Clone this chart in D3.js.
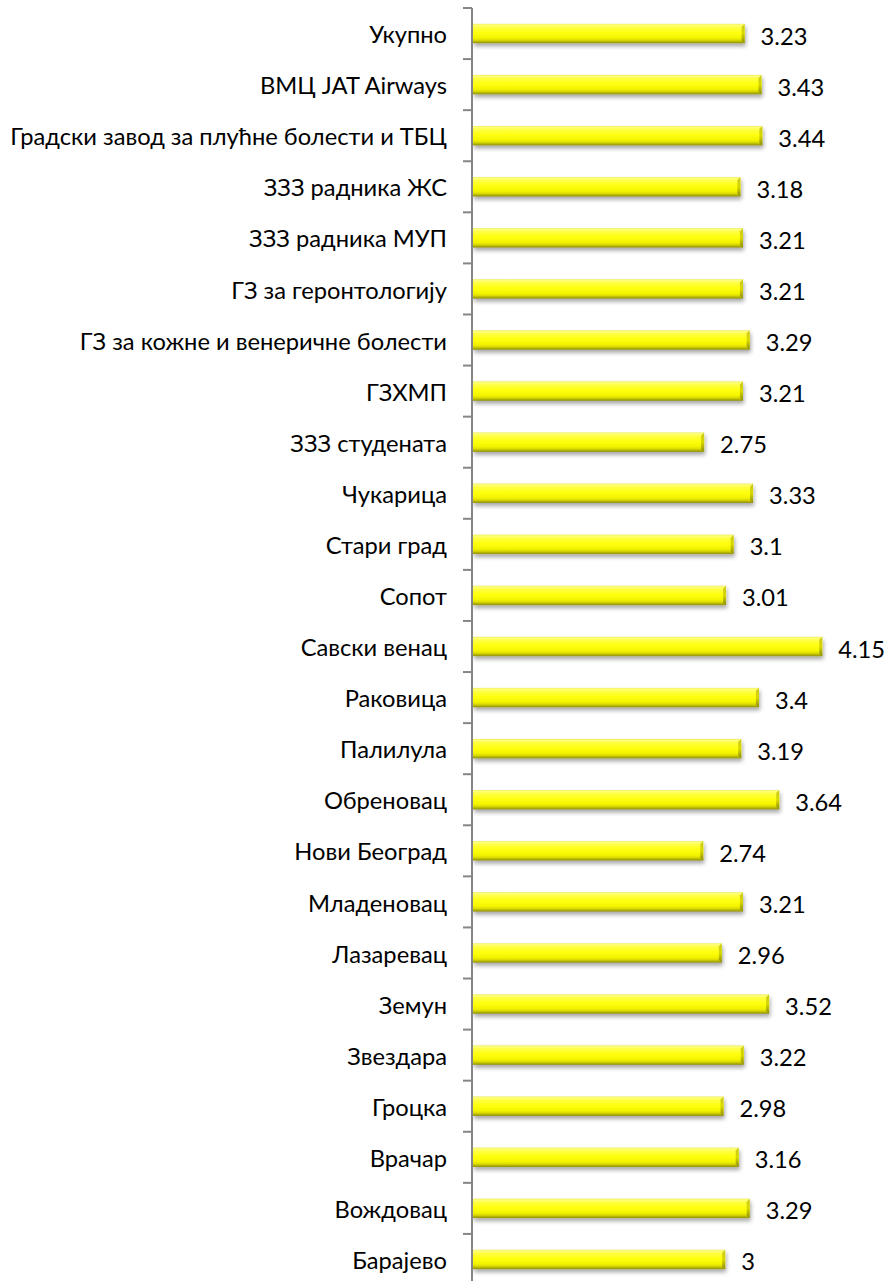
<!DOCTYPE html>
<html>
<head>
<meta charset="utf-8">
<script src="https://cdn.jsdelivr.net/npm/d3@7"></script>
<style>
  html, body { margin: 0; padding: 0; background: #ffffff; }
  svg { display: block; }
  text { font-family: Lato, "Open Sans", sans-serif; fill: #000; }
</style>
</head>
<body>
<svg id="chart" width="885" height="1281"></svg>
<script>
// Categories listed top to bottom
const categories = [
  "Укупно",
  "ВМЦ JAT Airways",
  "Градски завод за плућне болести и ТБЦ",
  "ЗЗЗ радника ЖС",
  "ЗЗЗ радника МУП",
  "ГЗ за геронтологију ",
  "ГЗ за кожне и венеричне болести",
  "ГЗХМП",
  "ЗЗЗ студената",
  "Чукарица",
  "Стари град",
  "Сопот",
  "Савски венац",
  "Раковица",
  "Палилула",
  "Обреновац",
  "Нови Београд",
  "Младеновац",
  "Лазаревац",
  "Земун",
  "Звездара",
  "Гроцка",
  "Врачар",
  "Вождовац",
  "Барајево"
];
const values = [
  3.23, 3.43, 3.44, 3.18, 3.21, 3.21, 3.29, 3.21, 2.75, 3.33,
  3.1, 3.01, 4.15, 3.4, 3.19, 3.64, 2.74, 3.21, 2.96, 3.52,
  3.22, 2.98, 3.16, 3.29, 3
];
const valueLabels = [
  "3.23", "3.43", "3.44", "3.18", "3.21", "3.21", "3.29", "3.21", "2.75", "3.33",
  "3.1", "3.01", "4.15", "3.4", "3.19", "3.64", "2.74", "3.21", "2.96", "3.52",
  "3.22", "2.98", "3.16", "3.29", "3"
];
const xDomain = [0, 5];

const svg = d3.select("#chart");
const axisX = 472;
const plotTop = 8, plotBottom = 1285;
const fontSize = 23.7;

const x = d3.scaleLinear().domain(xDomain).range([axisX, axisX + 5 * 84.4]);
const y = d3.scaleBand().domain(categories).range([plotTop, plotBottom])
  .paddingInner(0.62).paddingOuter(0.31);
const step = y.step();

const defs = svg.append("defs");

// Vertical shading of the bar body
const grad = defs.append("linearGradient")
  .attr("id", "barFill").attr("x1", 0).attr("y1", 0).attr("x2", 0).attr("y2", 1);
[
  [0, "#eded55"], [0.07, "#ffff7a"], [0.2, "#ffff40"], [0.45, "#ffff10"],
  [0.72, "#f4f400"], [0.84, "#dcdc00"], [0.92, "#b4b400"], [1, "#8e8e10"]
].forEach(([o, c]) => grad.append("stop").attr("offset", o).attr("stop-color", c));

// Darker shading of the bevelled bar end
const endGrad = defs.append("linearGradient")
  .attr("id", "endFill").attr("x1", 0).attr("y1", 0).attr("x2", 0).attr("y2", 1);
[[0, "#c8c820"], [0.5, "#d8d800"], [1, "#8a8a10"]]
  .forEach(([o, c]) => endGrad.append("stop").attr("offset", o).attr("stop-color", c));

// Soft shadow cast below each bar
const shadow = defs.append("filter").attr("id", "shadow")
  .attr("x", "-5%").attr("y", "-50%").attr("width", "115%").attr("height", "250%");
shadow.append("feGaussianBlur").attr("in", "SourceAlpha").attr("stdDeviation", 2).attr("result", "b");
shadow.append("feOffset").attr("in", "b").attr("dx", 1).attr("dy", 3).attr("result", "o");
shadow.append("feComponentTransfer").attr("in", "o").attr("result", "s")
  .append("feFuncA").attr("type", "linear").attr("slope", 0.35);
const merge = shadow.append("feMerge");
merge.append("feMergeNode").attr("in", "s");
merge.append("feMergeNode").attr("in", "SourceGraphic");

const rows = categories.map((c, i) => ({ c, v: values[i], label: valueLabels[i] }));

const bars = svg.append("g").selectAll("g").data(rows).join("g")
  .attr("filter", "url(#shadow)");

bars.append("rect")
  .attr("x", x(0) + 1)
  .attr("y", d => y(d.c))
  .attr("width", d => x(d.v) - x(0) - 1)
  .attr("height", y.bandwidth())
  .attr("fill", "url(#barFill)");

// Bevel on the right end of each bar
bars.append("path")
  .attr("d", d => {
    const x1 = x(d.v), y0 = y(d.c), y1 = y0 + y.bandwidth(), b = 3;
    return `M${x1 - b},${y0 + b}L${x1},${y0}L${x1},${y1}L${x1 - b},${y1 - b}Z`;
  })
  .attr("fill", "url(#endFill)");

// Value labels
svg.append("g").selectAll("text").data(rows).join("text")
  .attr("x", d => x(d.v) + 16)
  .attr("y", d => y(d.c) + y.bandwidth() / 2 + 11)
  .attr("font-size", fontSize)
  .text(d => d.label);

// Category labels
svg.append("g").selectAll("text").data(rows).join("text")
  .attr("x", 447)
  .attr("y", d => y(d.c) + y.bandwidth() / 2 + 9.6)
  .attr("text-anchor", "end")
  .attr("font-size", fontSize)
  .text(d => d.c);

// Category axis: line with tick marks on band boundaries
const axis = svg.append("g").attr("stroke", "#868686").attr("stroke-width", 2);
axis.append("line").attr("x1", axisX).attr("x2", axisX).attr("y1", plotTop).attr("y2", plotBottom);
axis.selectAll("line.tick").data(d3.range(categories.length + 1)).join("line")
  .attr("class", "tick")
  .attr("x1", axisX - 9).attr("x2", axisX)
  .attr("y1", i => plotTop + i * step).attr("y2", i => plotTop + i * step);
</script>
</body>
</html>
